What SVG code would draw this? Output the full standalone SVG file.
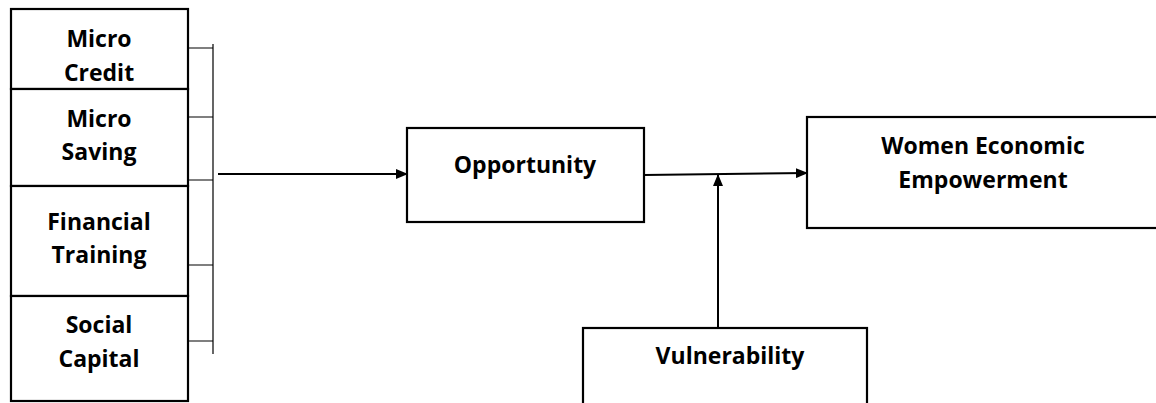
<svg xmlns="http://www.w3.org/2000/svg" width="1156" height="403" viewBox="0 0 1156 403">
<defs>
<marker id="ah" markerWidth="12" markerHeight="10" refX="11" refY="5" orient="auto" markerUnits="userSpaceOnUse">
<path d="M0,0 L12,5 L0,10 Z" fill="#000"/>
</marker>
<style>
.box{fill:#fff;stroke:#000;stroke-width:2.2}
.t{font-family:"Open Sans","Liberation Sans",sans-serif;font-weight:bold;font-size:23px;fill:#000;text-anchor:middle}
.thin{stroke:#000;stroke-width:1.2;fill:none}
.arr{stroke:#000;stroke-width:2;fill:none;marker-end:url(#ah)}
</style>
</defs>
<rect width="1156" height="403" fill="#fff"/>
<g id="micro-credit"><rect class="box" x="11" y="9" width="177" height="80"/><text class="t" x="99" y="47">Micro</text><text class="t" x="99" y="81">Credit</text></g>
<g id="micro-saving"><rect class="box" x="11" y="89" width="177" height="97"/><text class="t" x="99" y="127">Micro</text><text class="t" x="99" y="160">Saving</text></g>
<g id="financial-training"><rect class="box" x="11" y="186" width="177" height="110"/><text class="t" x="99" y="230">Financial</text><text class="t" x="99" y="263">Training</text></g>
<g id="social-capital"><rect class="box" x="11" y="296" width="177" height="105"/><text class="t" x="99" y="333">Social</text><text class="t" x="99" y="367">Capital</text></g>
<g id="opportunity"><rect class="box" x="407" y="128" width="237" height="94"/><text class="t" x="525" y="173">Opportunity</text></g>
<g id="women-economic-empowerment"><rect class="box" x="807" y="117" width="360" height="111"/><text class="t" x="983" y="154">Women Economic</text><text class="t" x="983" y="188">Empowerment</text></g>
<g id="vulnerability"><rect class="box" x="583" y="328" width="284" height="90"/><text class="t" x="730" y="364">Vulnerability</text></g>
<g id="connectors">
<path class="thin" d="M213,44 V354 M188,48 H213 M188,117 H213 M188,180 H213 M188,265 H213 M188,341 H213"/>
<line class="arr" x1="218" y1="174" x2="407" y2="174"/>
<line class="arr" x1="644" y1="175" x2="807" y2="173"/>
<line class="arr" x1="718" y1="328" x2="718" y2="175"/>
</g>
</svg>
